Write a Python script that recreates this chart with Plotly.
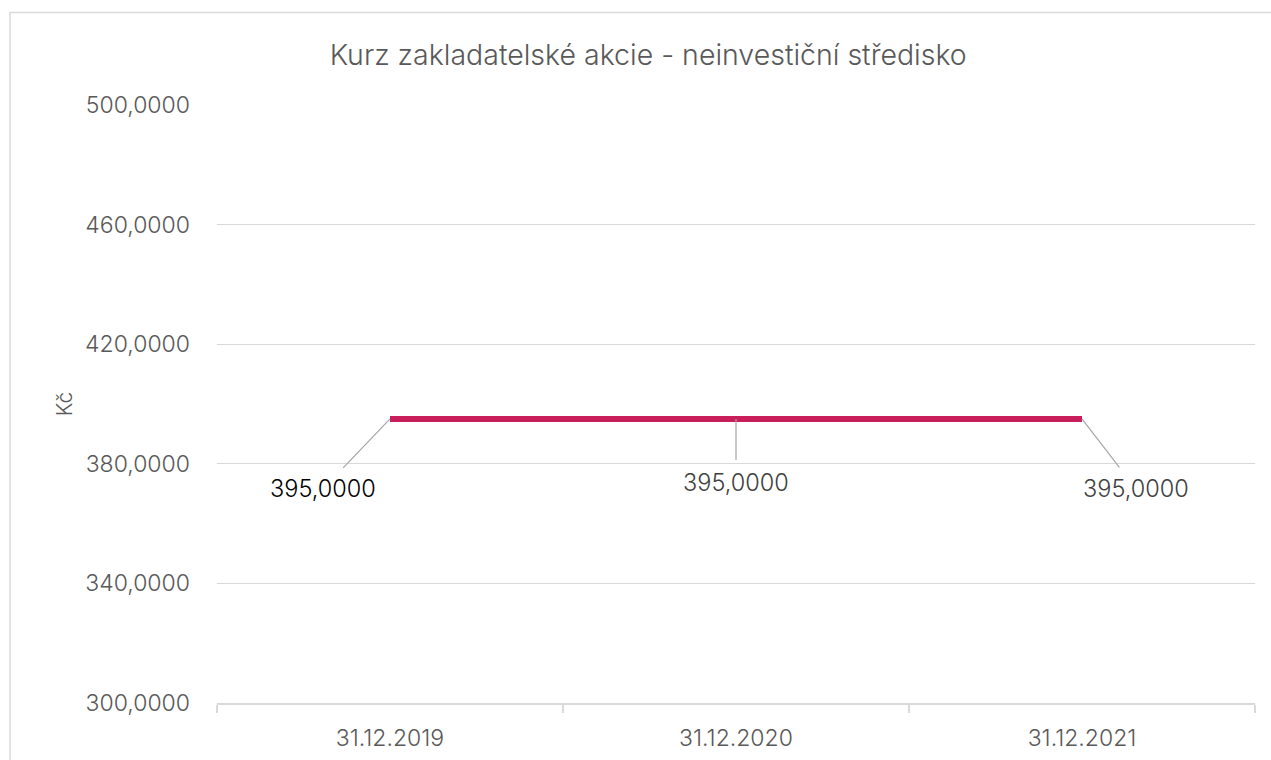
import plotly.graph_objects as go

categories = ["31.12.2019", "31.12.2020", "31.12.2021"]
values = [395.0, 395.0, 395.0]
label_texts = ["395,0000", "395,0000", "395,0000"]
label_colors = ["#000000", "#404040", "#404040"]
label_offsets = [(-67, 70), (0, 64), (54, 70)]

FONT = "Inter"
W = 300

fig = go.Figure()
fig.add_trace(go.Scatter(
    x=categories, y=values, mode="lines",
    line=dict(color="#c81e5a", width=6), hoverinfo="skip", showlegend=False,
))

for c, v, t, col, (ax, ay) in zip(categories, values, label_texts, label_colors, label_offsets):
    fig.add_annotation(
        x=c, y=v, xref="x", yref="y", text=t, showarrow=True,
        ax=ax, ay=ay, arrowhead=0, arrowwidth=1.2, arrowcolor="#a6a6a6",
        startstandoff=7,
        font=dict(family=FONT, size=23.5, color=col, weight=W),
    )

# outer chart border
fig.add_shape(type="rect", xref="paper", yref="paper",
              x0=-0.1994, x1=1.03, y0=-0.12, y1=1.1547,
              line=dict(color="#d9d9d9", width=1.5), layer="below")

fig.update_layout(
    width=1271, height=760,
    margin=dict(l=217, r=16, t=105, b=57, autoexpand=False),
    paper_bgcolor="white", plot_bgcolor="white",
    separators=", ",
    font=dict(family=FONT, color="#595959", weight=W),
    title=dict(text="Kurz zakladatelské akcie - neinvestiční středisko",
               xref="container", yref="container", x=0.51, y=1 - 55 / 760,
               xanchor="center", yanchor="middle",
               font=dict(family=FONT, size=28.5, color="#595959", weight=W)),
    showlegend=False,
)
fig.update_yaxes(
    range=[300, 500], dtick=40, tick0=300, tickformat=".4f",
    showgrid=True, gridcolor="#d9d9d9", gridwidth=1.2,
    zeroline=False, showline=False, ticks="", automargin=False,
    tickfont=dict(family=FONT, size=23, color="#595959", weight=W),
    ticklabelstandoff=26,
    title=dict(text="Kč", font=dict(family=FONT, size=21, color="#595959", weight=W), standoff=6),
)
fig.update_xaxes(
    type="category", range=[-0.5, 2.5], tickson="boundaries", ticks="outside", ticklen=8,
    tickcolor="#d9d9d9", tickwidth=1.5, automargin=False,
    showline=True, linecolor="#d9d9d9", linewidth=1.5,
    showgrid=False,
    tickfont=dict(family=FONT, size=23, color="#595959", weight=W),
    ticklabelstandoff=14,
)

fig.write_html("out.html")
